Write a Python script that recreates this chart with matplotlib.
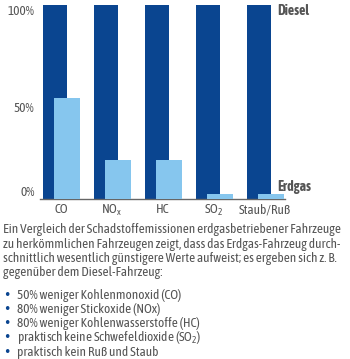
import matplotlib
matplotlib.use('Agg')
import matplotlib.pyplot as plt
import numpy as np

# Daten
kategorien = ['CO', 'NO$_x$', 'HC', 'SO$_2$', 'Staub/Ruß']
diesel = [100, 100, 100, 100, 100]
erdgas = [52, 20, 20, 2.5, 2.5]
y_ticks = [0, 50, 100]
y_labels = ['0%', '50%', '100%']

text_zeilen = [
    'Ein Vergleich der Schadstoffemissionen erdgasbetriebener Fahrzeuge',
    'zu herkömmlichen Fahrzeugen zeigt, dass das Erdgas-Fahrzeug durch-',
    'schnittlich wesentlich günstigere Werte aufweist; es ergeben sich z. B.',
    'gegenüber dem Diesel-Fahrzeug:',
]
punkte = [
    '50% weniger Kohlenmonoxid (CO)',
    '80% weniger Stickoxide (NOx)',
    '80% weniger Kohlenwasserstoffe (HC)',
    'praktisch keine Schwefeldioxide (SO$_2$)',
    'praktisch kein Ruß und Staub',
]

dunkelblau = '#0a4590'
hellblau = '#86c6ee'
grau = '#555555'

fam = ['Asap Condensed', 'DejaVu Sans']
plt.rcParams['font.family'] = fam
plt.rcParams['mathtext.fontset'] = 'custom'
plt.rcParams['mathtext.rm'] = 'Asap Condensed'
plt.rcParams['mathtext.it'] = 'Asap Condensed'

W, H = 350, 359
fs = 9.5
fig = plt.figure(figsize=(W / 100, H / 100), dpi=100)
ax = fig.add_axes([40 / W, (H - 199) / H, 245 / W, 194 / H])

x = np.arange(len(kategorien))
ax.bar(x - 0.12, diesel, width=0.48, color=dunkelblau, zorder=2)
ax.bar(x + 0.12, erdgas, width=0.5, color=hellblau, zorder=3)

ax.set_xlim(-0.41, 4.39)
ax.set_ylim(0, 100)
for s in ['top', 'right', 'left']:
    ax.spines[s].set_visible(False)
ax.spines['bottom'].set_color('#666666')
ax.spines['bottom'].set_linewidth(1.0)
ax.set_xticks(x)
ax.set_xticklabels(kategorien, fontsize=fs, color=grau)
ax.set_yticks(y_ticks)
ax.set_yticklabels(y_labels, fontsize=fs, color=grau)
ax.tick_params(length=0, pad=4)
ax.tick_params(axis='x', pad=3)
tl = ax.get_yticklabels()
tl[0].set_va('bottom')
tl[1].set_va('top')
tl[2].set_va('top')

ax.text(4.23, 97, 'Diesel', fontsize=10, fontweight='bold', color=grau,
        va='center', ha='left', clip_on=False)
ax.text(4.23, 6, 'Erdgas', fontsize=10, fontweight='bold', color=grau,
        va='center', ha='left', clip_on=False)

y0 = 230
for i, z in enumerate(text_zeilen):
    fig.text(3 / W, 1 - (y0 + i * 14.3) / H, z, fontsize=fs, color=grau, va='center')
y1 = 295
for i, p in enumerate(punkte):
    yy = 1 - (y1 + i * 14.3) / H
    fig.text(3.5 / W, yy, '•', fontsize=9, family='DejaVu Sans', color=dunkelblau, va='center')
    fig.text(17 / W, yy, p, fontsize=fs, color=grau, va='center')

fig.savefig('out.png', dpi=100)
